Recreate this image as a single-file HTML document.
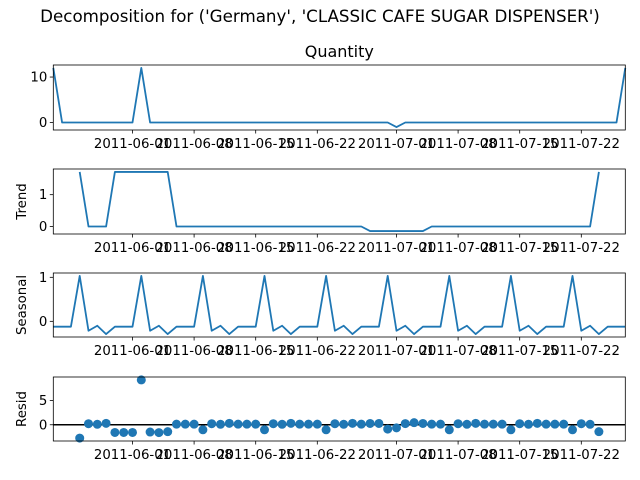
<!DOCTYPE html>
<html><head><meta charset="utf-8"><style>
body{margin:0;background:#fff}
svg{display:block;font-family:"DejaVu Sans","Liberation Sans",sans-serif}
</style></head><body>
<svg id="chart" width="640" height="480">
<text x="320" y="22" text-anchor="middle" font-size="16.7">Decomposition for ('Germany', 'CLASSIC CAFE SUGAR DISPENSER')</text>
</svg>
<script>
const startDate = "2011-05-23";
const nDays = 66;
const observed = [12,0,0,0,0,0,0,0,0,0,12,0,0,0,0,0,0,0,0,0,0,0,0,0,0,0,0,0,0,0,0,0,0,0,0,0,0,0,0,-1,0,0,0,0,0,0,0,0,0,0,0,0,0,0,0,0,0,0,0,0,0,0,0,0,0,12];
const trend = [null,null,null,1.714,0,0,0,1.714,1.714,1.714,1.714,1.714,1.714,1.714,0,0,0,0,0,0,0,0,0,0,0,0,0,0,0,0,0,0,0,0,0,0,-0.143,-0.143,-0.143,-0.143,-0.143,-0.143,-0.143,0,0,0,0,0,0,0,0,0,0,0,0,0,0,0,0,0,0,0,1.714,null,null,null];
const seasonalPattern = [-0.122,-0.122,-0.122,1.032,-0.214,-0.1,-0.29];
const resid = [null,null,null,-2.75,0.214,0.1,0.29,-1.59,-1.59,-1.59,9.25,-1.5,-1.614,-1.424,0.122,0.122,0.122,-1.032,0.214,0.1,0.29,0.122,0.122,0.122,-1.032,0.214,0.1,0.29,0.122,0.122,0.122,-1.032,0.214,0.1,0.29,0.122,0.265,0.265,-0.889,-0.643,0.243,0.433,0.265,0.122,0.122,-1.032,0.214,0.1,0.29,0.122,0.122,0.122,-1.032,0.214,0.1,0.29,0.122,0.122,0.122,-1.032,0.214,0.1,-1.424,null,null,null];
const xTickDates = ["2011-06-01","2011-06-08","2011-06-15","2011-06-22","2011-07-01","2011-07-08","2011-07-15","2011-07-22"];
const qTicks = [0,10], trTicks = [0,1], seTicks = [0,1], reTicks = [0,5];

const seasonal = [];
for (let i=0;i<nDays;i++) seasonal.push(seasonalPattern[i%7]);

const NS="http://www.w3.org/2000/svg", svg=document.getElementById('chart');
const L=53.3, R=625.3, C="#1f77b4";
const day0=Date.parse(startDate);
function dayOf(s){return (Date.parse(s)-day0)/86400000;}
function X(d){return L+d*(R-L)/(nDays-1);}
function mk(tag,attrs,parent){const e=document.createElementNS(NS,tag);for(const k in attrs)e.setAttribute(k,attrs[k]);(parent||svg).appendChild(e);return e;}

const panels=[
 {name:'quantity',data:observed,top:65,bot:130,ticks:qTicks,label:null,title:'Quantity',kind:'line'},
 {name:'trend',data:trend,top:169,bot:234,ticks:trTicks,label:'Trend',kind:'line'},
 {name:'seasonal',data:seasonal,top:273,bot:337,ticks:seTicks,label:'Seasonal',kind:'line'},
 {name:'resid',data:resid,top:377,bot:441,ticks:reTicks,label:'Resid',kind:'scatter'}
];
panels.forEach(p=>{
  const g=mk('g',{});
  
  
  const vals=p.data.filter(v=>v!==null);
  const mn=Math.min(...vals), mx=Math.max(...vals), m=(mx-mn)*0.05;
  const y0=mn-m, y1=mx+m;
  const Y=v=>p.bot-(v-y0)/(y1-y0)*(p.bot-p.top);
  if(p.kind==='line'){
    let d='';
    p.data.forEach((v,i)=>{if(v===null)return;d+=(d?'L':'M')+X(i).toFixed(2)+','+Y(v).toFixed(2);});
    const path=mk('path',{d:d,fill:'none',stroke:C,'stroke-width':1.8,'stroke-linejoin':'round'},g);
    
    
  } else {
    const zl=mk('line',{x1:L,x2:R,y1:Y(0),y2:Y(0),stroke:'#000','stroke-width':1.5},g);
    
    
    p.data.forEach((v,i)=>{if(v===null)return;
      const c=mk('circle',{cx:X(i),cy:Y(v),r:4.5,fill:C},g);
      
      
    });
  }
  const frame=mk('rect',{x:L,y:p.top,width:R-L,height:p.bot-p.top,fill:'none',stroke:'#000','stroke-width':0.8},g);
  
  
  p.ticks.forEach(t=>{
    const y=Y(t);
    mk('line',{x1:L-3.5,x2:L,y1:y,y2:y,stroke:'#000','stroke-width':0.8},g);
    const tx=mk('text',{x:L-6,y:y+4.5,'text-anchor':'end','font-size':13.3},g);
    tx.textContent=t;
    
    
  });
  xTickDates.forEach(s=>{
    const x=X(dayOf(s));
    mk('line',{x1:x,x2:x,y1:p.bot,y2:p.bot+3.5,stroke:'#000','stroke-width':0.8},g);
    const tx=mk('text',{x:x,y:p.bot+18,'text-anchor':'middle','font-size':13.3},g);
    tx.textContent=s;
    
    
  });
  if(p.label){
    const cy=(p.top+p.bot)/2;
    const lt=mk('text',{x:26,y:cy,'text-anchor':'middle','font-size':13.3,transform:'rotate(-90 26 '+cy+')'},g);
    lt.textContent=p.label;
    
    
  }
  if(p.title){
    const tt=mk('text',{x:(L+R)/2,y:p.top-8,'text-anchor':'middle','font-size':16},g);
    tt.textContent=p.title;
    
    
  }
});
</script>
</body></html>
